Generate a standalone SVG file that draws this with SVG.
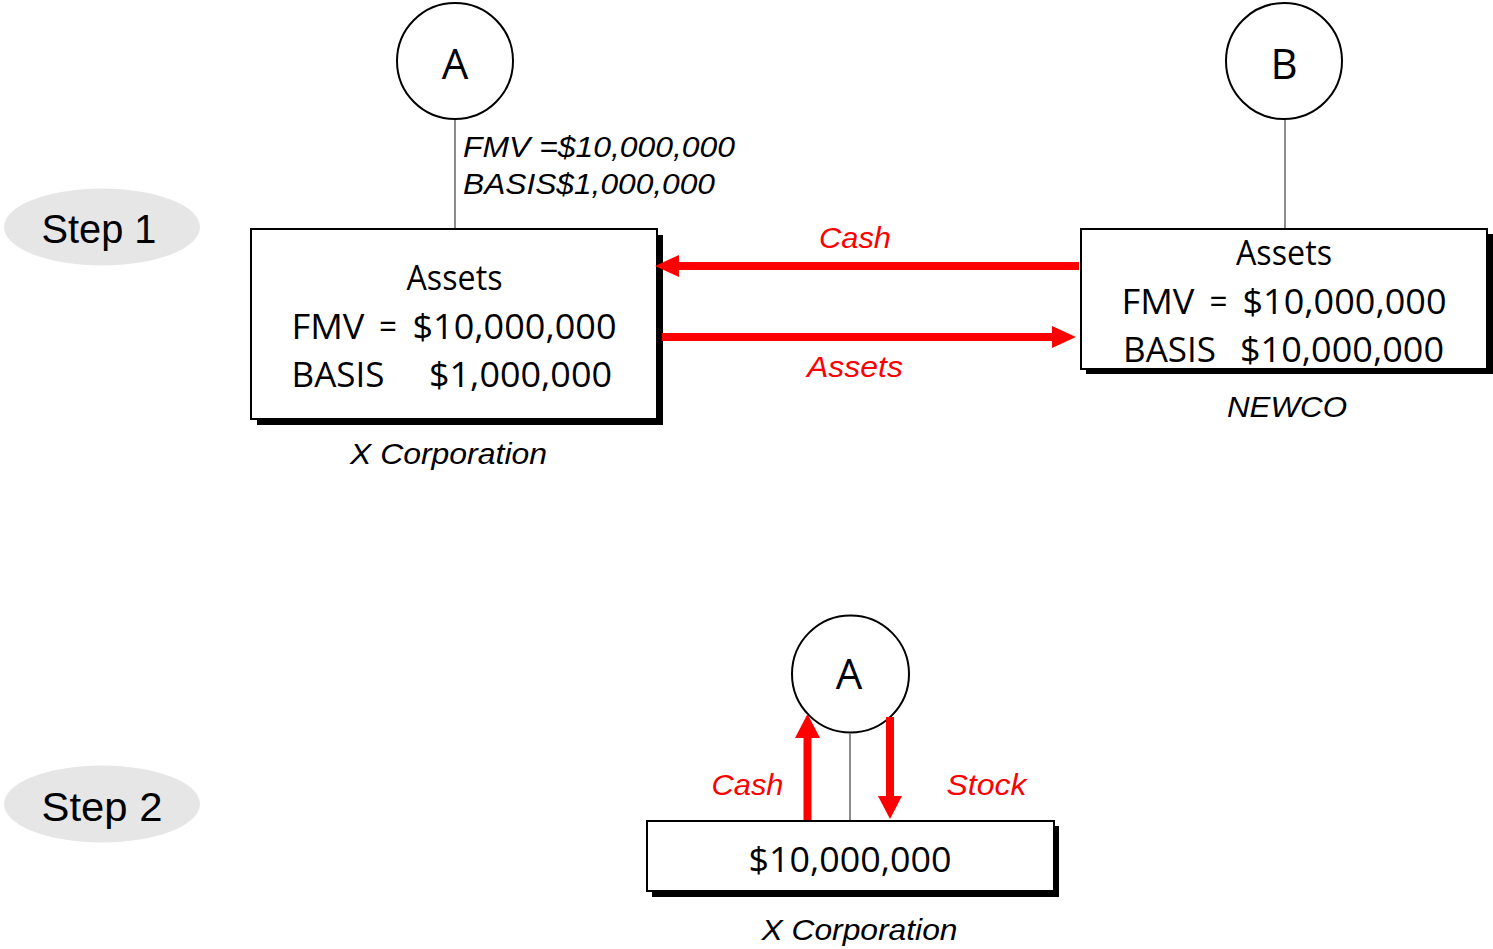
<svg xmlns="http://www.w3.org/2000/svg" width="1493" height="949" viewBox="0 0 1493 949">
<style>
.bg{fill:#ffffff}
.circ{fill:#ffffff;stroke:#000;stroke-width:2}
.box{fill:#ffffff;stroke:#000;stroke-width:2}
.shadow{fill:#000}
.tie{stroke:#8c8c8c;stroke-width:2;fill:none}
.red{stroke:#ff0000;stroke-width:8;fill:none}
.head{fill:#ff0000}
.step{fill:#e6e6e6}
.t{font-family:"Open Sans","Noto Sans",sans-serif;fill:#000}
.it{font-family:"Liberation Sans",Arial,sans-serif;font-style:italic;fill:#000}
.rl{font-family:"Liberation Sans",Arial,sans-serif;font-style:italic;fill:#ff0000;font-size:30px}
.st{font-family:"Liberation Sans",Arial,sans-serif;font-size:40px;fill:#000}
</style>
<rect class="bg" x="0" y="0" width="1493" height="949"/>

<g id="step1">
<ellipse class="step" cx="102" cy="227" rx="98" ry="38.5"/>
<text class="st" x="41.5" y="243" textLength="115" lengthAdjust="spacingAndGlyphs">Step 1</text>
</g>
<g id="step2">
<ellipse class="step" cx="102" cy="804" rx="98" ry="38.5"/>
<text class="st" x="41.5" y="821" textLength="121" lengthAdjust="spacingAndGlyphs">Step 2</text>
</g>

<g id="labels">
<text class="rl" x="855" y="248" text-anchor="middle" textLength="72" lengthAdjust="spacingAndGlyphs">Cash</text>
<text class="rl" x="807" y="377" textLength="96" lengthAdjust="spacingAndGlyphs">Assets</text>
<text class="rl" x="711.5" y="795" textLength="72" lengthAdjust="spacingAndGlyphs">Cash</text>
<text class="rl" x="946.5" y="795" textLength="80" lengthAdjust="spacingAndGlyphs">Stock</text>
<text class="it" x="463" y="157" font-size="29" textLength="272" lengthAdjust="spacingAndGlyphs">FMV =$10,000,000</text>
<text class="it" x="463" y="193.5" font-size="29" textLength="252" lengthAdjust="spacingAndGlyphs">BASIS$1,000,000</text>
</g>

<g id="nodeA1">
<circle class="circ" cx="455" cy="61" r="58"/>
<text class="t" x="455" y="78.5" font-size="42" text-anchor="middle">A</text>
</g>

<g id="nodeB">
<circle class="circ" cx="1284" cy="61" r="58"/>
<text class="t" x="1284" y="78.5" font-size="42" text-anchor="middle">B</text>
</g>

<g id="xcorp1">
<rect class="shadow" x="257" y="235" width="406" height="190"/>
<rect class="box" x="251" y="229" width="406" height="190"/>
<text class="t" font-size="35" x="406.5" y="290" textLength="96" lengthAdjust="spacingAndGlyphs">Assets</text>
<text class="t" font-size="35" x="291.5" y="338.5" textLength="73" lengthAdjust="spacingAndGlyphs">FMV</text>
<text class="t" font-size="35" x="379" y="338.5" textLength="18" lengthAdjust="spacingAndGlyphs">=</text>
<text class="t" font-size="35" x="412.5" y="338.5" textLength="204" lengthAdjust="spacingAndGlyphs">$10,000,000</text>
<text class="t" font-size="35" x="291.5" y="386.5" textLength="93" lengthAdjust="spacingAndGlyphs">BASIS</text>
<text class="t" font-size="35" x="429" y="386.5" textLength="183" lengthAdjust="spacingAndGlyphs">$1,000,000</text>
<text class="it" font-size="30" x="350" y="464" textLength="197" lengthAdjust="spacingAndGlyphs">X Corporation</text>
</g>

<g id="newco">
<rect class="shadow" x="1086" y="234" width="407" height="140"/>
<rect class="box" x="1081" y="229" width="406" height="140"/>
<text class="t" font-size="35" x="1236" y="265" textLength="96" lengthAdjust="spacingAndGlyphs">Assets</text>
<text class="t" font-size="35" x="1121.5" y="314" textLength="73" lengthAdjust="spacingAndGlyphs">FMV</text>
<text class="t" font-size="35" x="1209.5" y="314" textLength="18" lengthAdjust="spacingAndGlyphs">=</text>
<text class="t" font-size="35" x="1242.5" y="314" textLength="204" lengthAdjust="spacingAndGlyphs">$10,000,000</text>
<text class="t" font-size="35" x="1123" y="362" textLength="93" lengthAdjust="spacingAndGlyphs">BASIS</text>
<text class="t" font-size="35" x="1240" y="362" textLength="204" lengthAdjust="spacingAndGlyphs">$10,000,000</text>
<text class="it" font-size="30" x="1227" y="417" textLength="120" lengthAdjust="spacingAndGlyphs">NEWCO</text>
</g>

<g id="nodeA2">
<circle class="circ" cx="850.5" cy="674" r="58.5"/>
<text class="t" x="849" y="689" font-size="42" text-anchor="middle">A</text>
</g>

<g id="xcorp2">
<rect class="shadow" x="652" y="826" width="407" height="71"/>
<rect class="box" x="647" y="821" width="407" height="70"/>
<text class="t" font-size="35" x="748.5" y="872" textLength="203" lengthAdjust="spacingAndGlyphs">$10,000,000</text>
<text class="it" font-size="30" x="761.5" y="940" textLength="196" lengthAdjust="spacingAndGlyphs">X Corporation</text>
</g>

<g id="connectors">
<line class="tie" x1="455" y1="120" x2="455" y2="228"/>
<line class="tie" x1="1285" y1="120" x2="1285" y2="228"/>
<line class="tie" x1="850" y1="733.5" x2="850" y2="820"/>
<line class="red" x1="1079" y1="266" x2="677" y2="266"/>
<polygon class="head" points="655,266 679,255 679,277"/>
<line class="red" x1="662" y1="337" x2="1054" y2="337"/>
<polygon class="head" points="1076,337 1052,326 1052,348"/>
<line class="red" x1="807.5" y1="820" x2="807.5" y2="736"/>
<polygon class="head" points="807.5,714 795,738 820,738"/>
<line class="red" x1="890" y1="717" x2="890" y2="798"/>
<polygon class="head" points="890,819 878,796 902,796"/>
</g>
</svg>
